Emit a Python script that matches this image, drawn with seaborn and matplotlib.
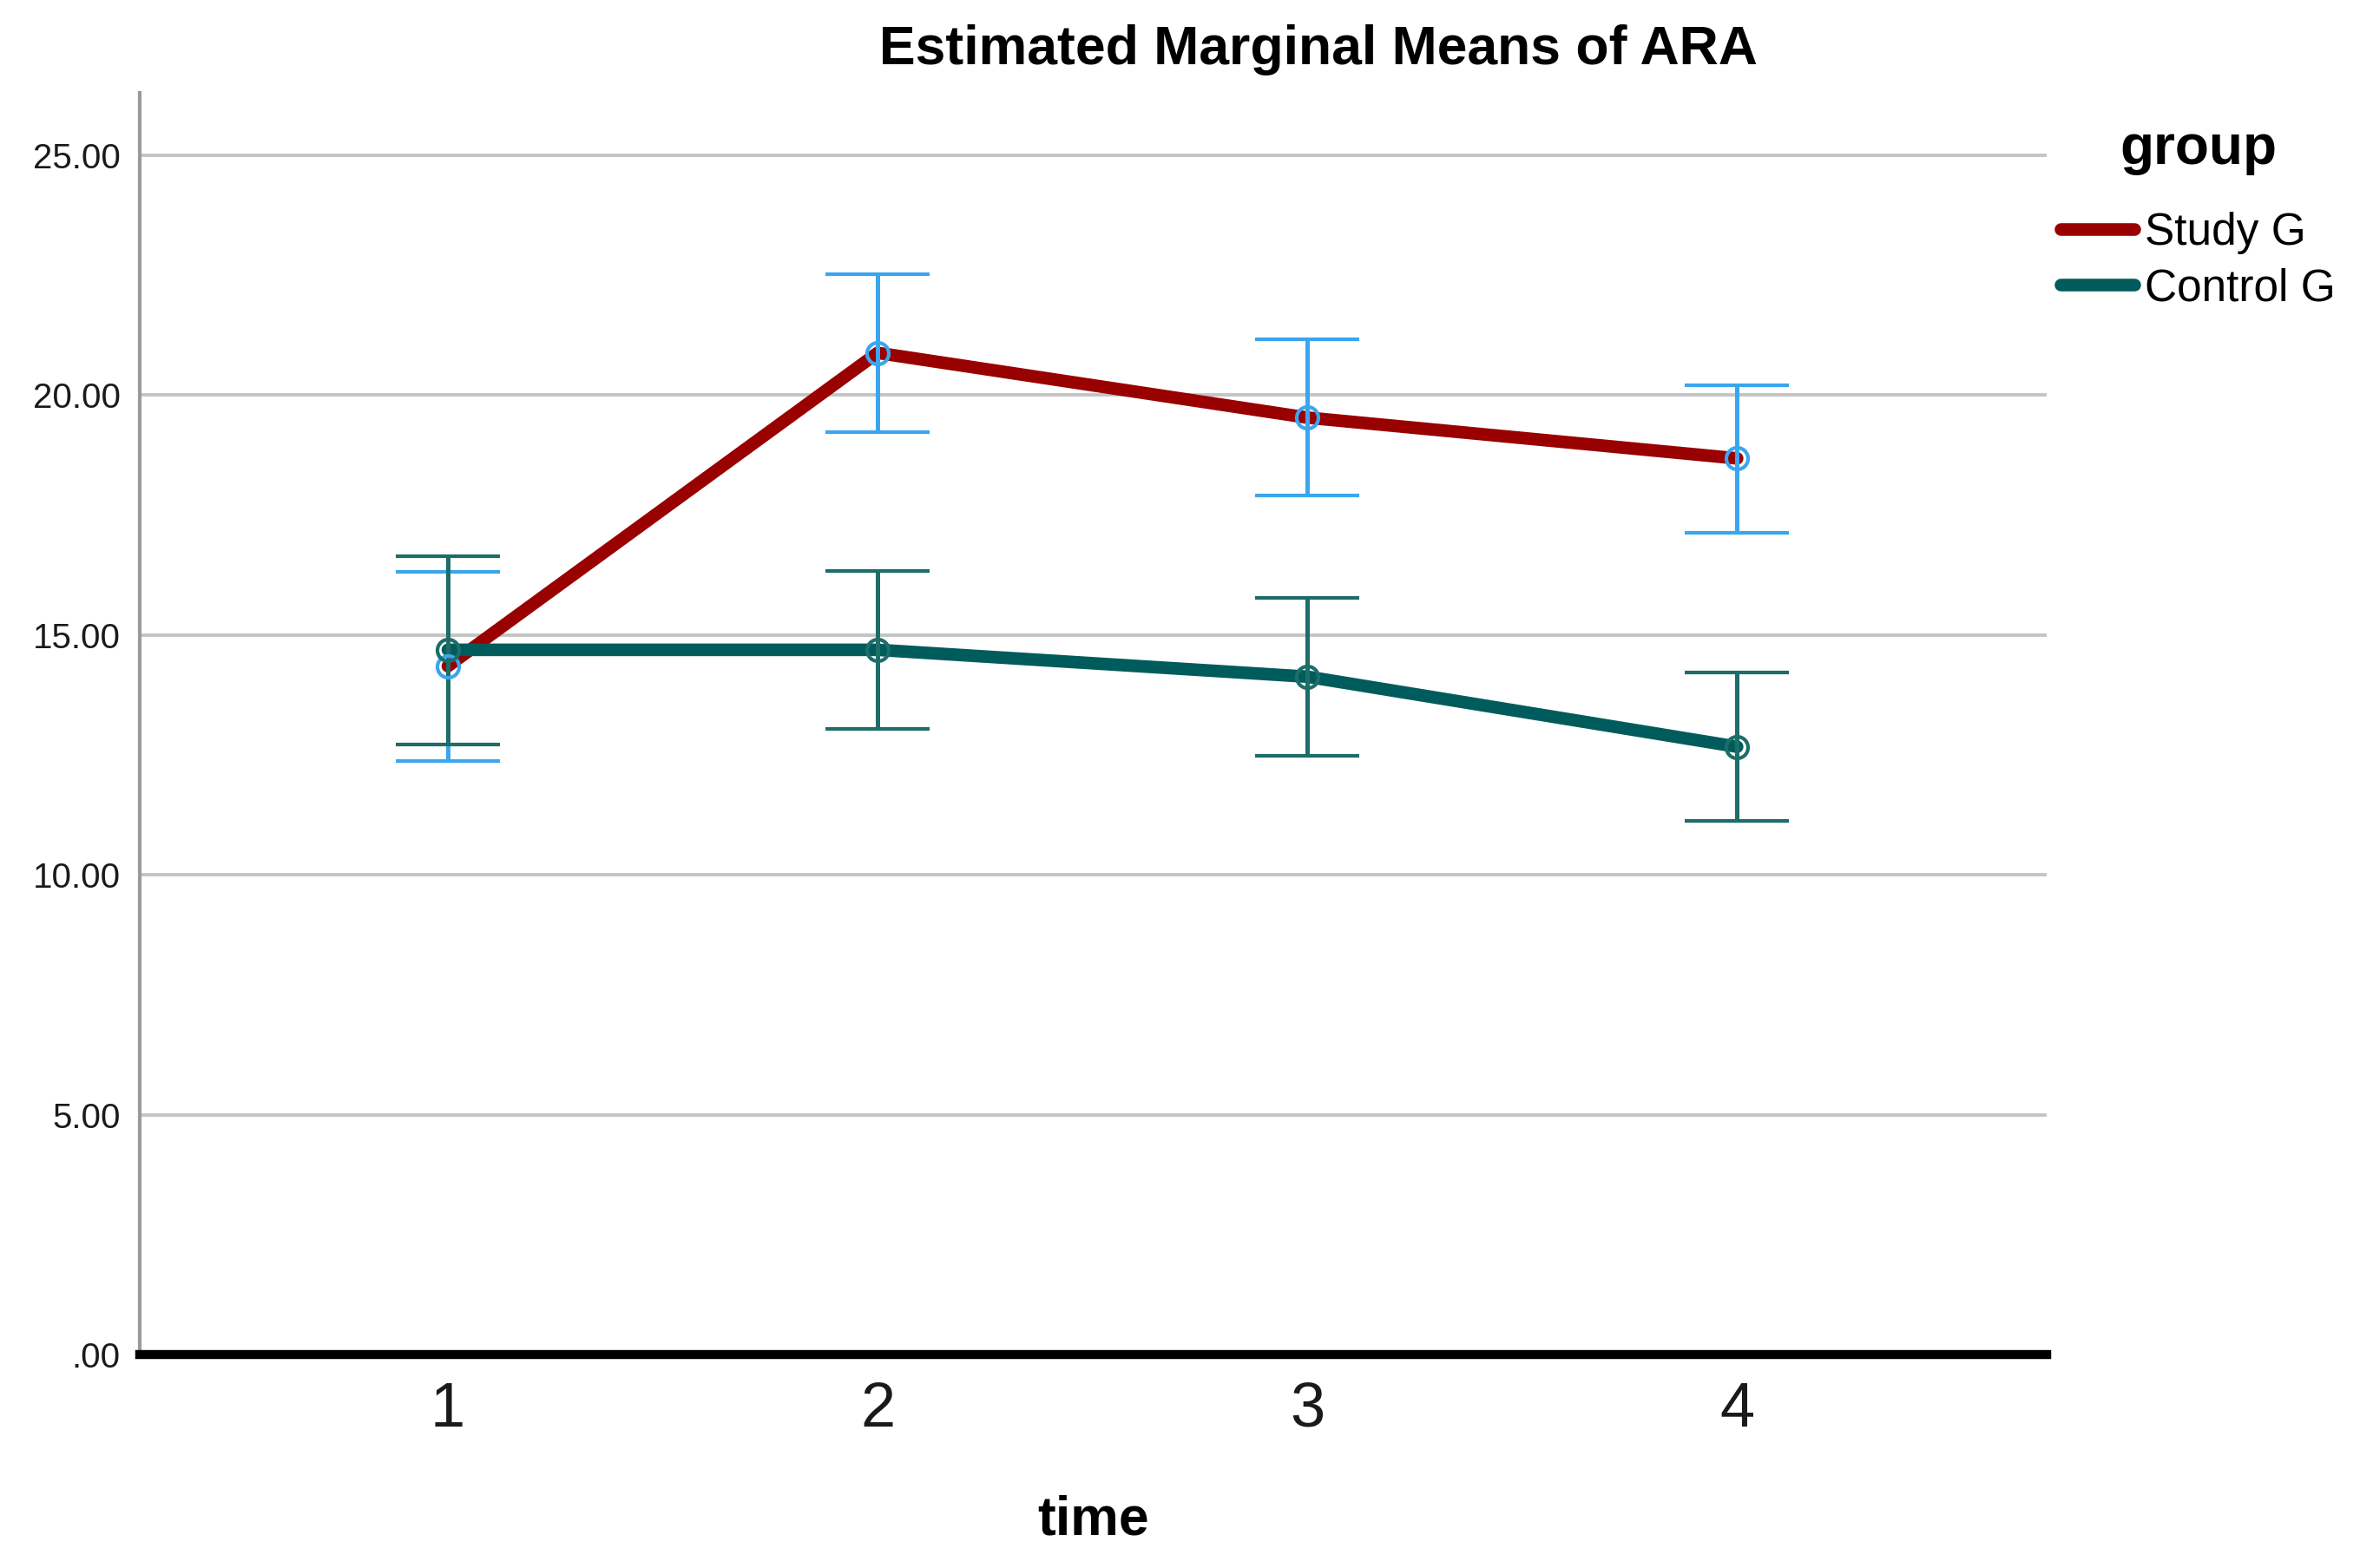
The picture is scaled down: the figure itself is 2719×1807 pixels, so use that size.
import numpy as np
import pandas as pd
import matplotlib
matplotlib.use("Agg")
import matplotlib.pyplot as plt
import seaborn as sns
from matplotlib.ticker import FuncFormatter

# Values
time_points = [1, 2, 3, 4]
group_names = ["Study G", "Control G"]
study_means = [14.35, 20.88, 19.53, 18.68]
study_lower = [12.38, 19.22, 17.90, 17.13]
study_upper = [16.32, 22.52, 21.17, 20.21]
control_means = [14.69, 14.69, 14.13, 12.67]
control_lower = [12.72, 13.04, 12.48, 11.12]
control_upper = [16.65, 16.33, 15.77, 14.21]
y_ticks = [0, 5, 10, 15, 20, 25]

line_colors = {"Study G": "#990000", "Control G": "#005c5c"}
bar_colors = {"Study G": "#3aa6ef", "Control G": "#1d6d69"}


def fmt_tick(v, pos):
    s = f"{v:.2f}"
    return s[1:] if s.startswith("0") else s


def plot_marginal_means(save_path):
    """
    Line plot of estimated marginal means with error bars per group.
    """
    df = pd.DataFrame({
        "time": time_points * 2,
        "mean": study_means + control_means,
        "lower": study_lower + control_lower,
        "upper": study_upper + control_upper,
        "group": ["Study G"] * 4 + ["Control G"] * 4,
    })

    sns.set_style("white")
    plt.rcParams["font.family"] = ["Liberation Sans", "DejaVu Sans"]
    plt.rcParams["text.color"] = "black"
    plt.rcParams["axes.labelcolor"] = "black"

    fig = plt.figure(figsize=(27.19, 18.07), dpi=100)
    ax = fig.add_axes([0.0592, 0.1361, 0.8080, 0.8047])

    # Grid lines behind everything
    for t in y_ticks[1:]:
        ax.axhline(t, color="#c4c4c4", linewidth=2.8, zorder=0)

    # Mean lines
    sns.lineplot(data=df, x="time", y="mean", hue="group", hue_order=group_names,
                 palette=line_colors, linewidth=10.5, ax=ax, legend=False,
                 estimator=None, zorder=2)

    # Error bars with open circle markers
    for name in group_names:
        sub = df[df["group"] == name]
        ax.errorbar(sub["time"], sub["mean"],
                    yerr=[sub["mean"] - sub["lower"], sub["upper"] - sub["mean"]],
                    fmt="o", mfc="none", mec=bar_colors[name], ms=18, mew=3,
                    ecolor=bar_colors[name], elinewidth=3.6, capsize=43, capthick=5,
                    zorder=3)

    # Axes formatting
    ax.set_xlim(0.283, 4.72)
    ax.set_ylim(0, 26.3)
    ax.set_xticks(time_points)
    ax.set_yticks(y_ticks)
    ax.yaxis.set_major_formatter(FuncFormatter(fmt_tick))
    ax.tick_params(axis="y", length=0, pad=16, labelsize=29, labelcolor="#1a1a1a")
    ax.tick_params(axis="x", length=0, pad=22, labelsize=52, labelcolor="#1a1a1a")
    ax.set_xlabel("time", fontsize=45, fontweight="bold", labelpad=46)
    ax.set_ylabel("")

    for side in ["top", "right"]:
        ax.spines[side].set_visible(False)
    ax.spines["left"].set_color("#9a9a9a")
    ax.spines["left"].set_linewidth(3)
    ax.spines["bottom"].set_color("black")
    ax.spines["bottom"].set_linewidth(7.5)
    ax.spines["bottom"].set_zorder(4)

    fig.text(0.5587, 0.968, "Estimated Marginal Means of ARA", ha="center",
             va="center", fontsize=45, fontweight="bold", color="black")

    # Legend
    handles = [plt.Line2D([], [], color=line_colors[n], linewidth=10.5) for n in group_names]
    leg = fig.legend(handles, group_names, title="group", loc="upper left",
                     bbox_to_anchor=(0.856, 0.947), frameon=False, fontsize=37,
                     handlelength=1.65, handletextpad=0.25, labelspacing=0.3)
    leg.get_title().set_fontsize(46)
    leg.get_title().set_fontweight("bold")
    leg._legend_box.sep = 30

    plt.savefig(save_path, dpi=100)
    plt.close()


if __name__ == "__main__":
    plot_marginal_means("out.png")
